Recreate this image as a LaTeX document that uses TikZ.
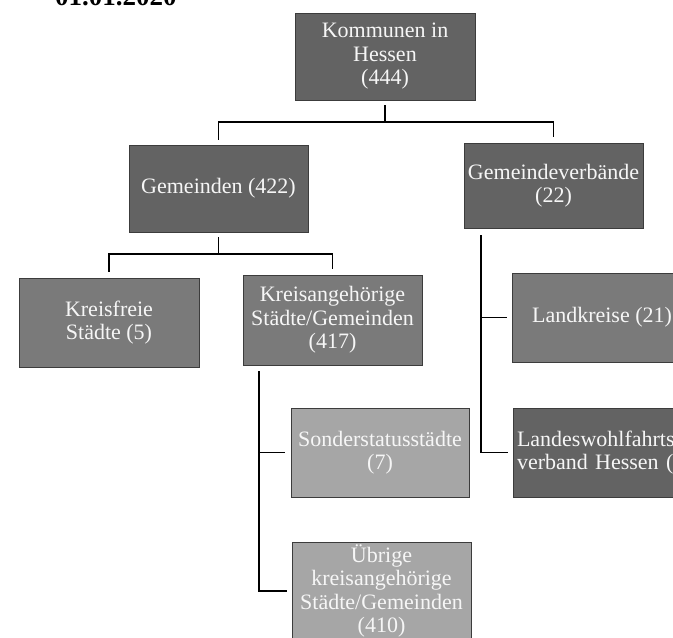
\documentclass[tikz,border=0pt]{standalone}
\usepackage{fontspec}
\setmainfont{Liberation Serif}
\definecolor{darkbox}{HTML}{636363}
\definecolor{midbox}{HTML}{7A7A7A}
\definecolor{lightbox}{HTML}{A6A6A6}
\definecolor{edgecol}{HTML}{3C3C3C}
\definecolor{txtcol}{HTML}{F6F6F6}
\begin{document}
\begin{tikzpicture}[x=1pt,y=-1pt,
  box/.style={draw=edgecol, line width=0.8pt, text=txtcol, align=center, inner sep=0pt,
    font=\fontsize{22}{23.5}\selectfont, minimum width=179pt, minimum height=88pt},
  conn/.style={draw=black, line width=1.8pt}]
\clip (0,0) rectangle (673,638);
\fill[white] (0,0) rectangle (673,638);

\node[anchor=base west, inner sep=0pt, font=\bfseries\fontsize{27}{30}\selectfont] (date) at (55,5) {01.01.2020};

\node[box, fill=darkbox, minimum width=180pt, minimum height=87pt] (kom) at (385,56.5) {Kommunen in\\Hessen\\(444)};
\node[box, fill=darkbox, minimum height=87pt] (gem) at (218.5,188.5) {Gemeinden (422)};
\node[box, fill=darkbox, minimum height=85pt] (gv) at (553.5,185.5) {Gemeindeverbände\\(22)};
\node[box, fill=midbox, minimum width=180pt, minimum height=89pt] (kf) at (109,322.5) {Kreisfreie\\Städte (5)};
\node[box, fill=midbox, minimum height=90pt] (ka) at (332.5,320) {Kreisangehörige\\Städte/Gemeinden\\(417)};
\node[box, fill=midbox, minimum width=180pt, minimum height=89pt] (lk) at (602,317.5) {Landkreise (21)};
\node[box, fill=darkbox, minimum width=180pt, minimum height=89pt, text width=172pt, inner xsep=4pt, align=left] (lwv) at (603,452.5) {Landeswohlfahrts\\verband Hessen (};
\node[box, fill=lightbox, minimum width=178pt, minimum height=89pt] (sd) at (380,452.5) {Sonderstatusstädte\\(7)};
\node[box, fill=lightbox, minimum height=98pt] (ub) at (381.5,591) {Übrige\\kreisangehörige\\Städte/Gemeinden\\(410)};

\coordinate (bar1) at (0,122);
\draw[conn] ([yshift=-5pt]kom.south) -- (kom.south |- bar1);
\draw[conn] ([yshift=5pt]gem.north) |- (bar1 -| gv.north) -- ([yshift=6pt]gv.north);

\coordinate (bar2) at (0,254);
\draw[conn] ([yshift=-5pt]gem.south) -- (gem.south |- bar2);
\draw[conn] ([yshift=6pt]kf.north) |- (bar2 -| ka.north) -- ([yshift=6pt]ka.north);

\coordinate (gvt) at ([xshift=17pt,yshift=-7pt]gv.south west);
\draw[conn] (gvt) |- ([xshift=-5pt]lwv.west);
\draw[conn] (gvt |- lk.west) -- ([xshift=-5pt]lk.west);

\coordinate (kat) at ([xshift=16pt,yshift=-6pt]ka.south west);
\draw[conn] (kat) |- ([xshift=-5pt]ub.west);
\draw[conn] (kat |- sd.west) -- ([xshift=-6pt]sd.west);
\end{tikzpicture}
\end{document}
